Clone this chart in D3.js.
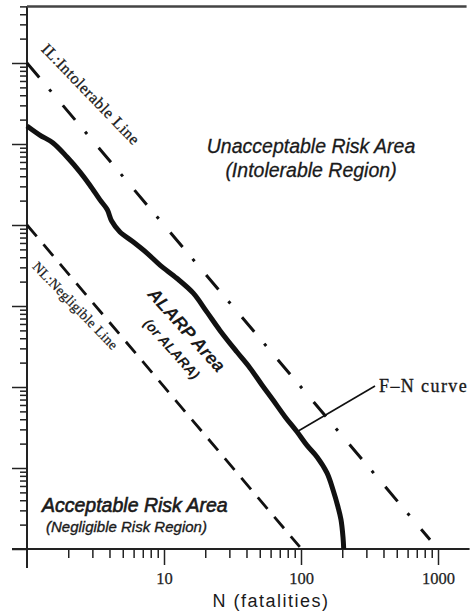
<!DOCTYPE html>
<html>
<head>
<meta charset="utf-8">
<script src="https://cdn.jsdelivr.net/npm/d3@7/dist/d3.min.js"></script>
<style>
  html,body{margin:0;padding:0;background:#fff;}
  svg{display:block;}
</style>
</head>
<body>
<svg id="chart" width="472" height="615"></svg>
<script>
// ---- data ----
// F-N curve: N (fatalities) and F (frequency)
const fnN = [1, 1.24, 1.55, 1.96, 2.44, 2.88, 3.41, 3.85, 4.15, 4.77, 5.94, 7.51, 9.35, 12.4, 16.3, 20.6, 25.6, 34.1, 42.4, 51.9, 62.5, 76.4, 93.5, 110.6, 130.9, 154.8, 171.2, 186.3, 195.9, 202.6, 205];
const fnF = [1.67e-4, 1.29e-4, 1.03e-4, 6.9e-5, 4.5e-5, 3.1e-5, 2.04e-5, 1.55e-5, 1.12e-5, 8.2e-6, 6.2e-6, 4.5e-6, 3.2e-6, 2.2e-6, 1.45e-6, 8.4e-7, 5.0e-7, 2.7e-7, 1.72e-7, 1.06e-7, 6.9e-8, 4.3e-8, 2.8e-8, 1.9e-8, 1.37e-8, 8.7e-9, 5.4e-9, 3.3e-9, 2.3e-9, 1.4e-9, 1.0e-9];
// IL: Intolerable line (end points)
const ilN = [1, 875];
const ilF = [1e-3, 1.3e-9];
// NL: Negligible line (end points)
const nlN = [1, 98];
const nlF = [1e-5, 1.06e-9];
// axis ticks
const xMajorTicks = [10, 100, 1000];
const xTickLabels = ["10", "100", "1000"];
const xMinorTicks = [2,3,4,5,6,7,8,9,20,30,40,50,60,70,80,90,200,300,400,500,600,700,800,900];
const yMajorTicks = [1e-9,1e-8,1e-7,1e-6,1e-5,1e-4,1e-3];
const yMinorTicks = [];
for (let k = -9; k <= -3; k++) for (let m = 2; m <= 9; m++) { const v = m * Math.pow(10, k); if (v <= 5e-3 + 1e-12) yMinorTicks.push(v); }
// leader line of "F-N curve" label (data space)
const leaderN = [93.5, 347];
const leaderF = [2.8e-8, 1.03e-7];

// ---- chart ----
const svg = d3.select("#chart");
const SERIF = "'Liberation Serif','Times New Roman',serif";
const SANS = "'Liberation Sans',Arial,sans-serif";
const ink = "#111";

const x = d3.scaleLog().domain([1, 1700]).range([27, 27 + 137 * Math.log10(1700)]);
const y = d3.scaleLog().domain([1e-9, 5e-3]).range([549, 549 - 81 * Math.log10(5e6)]);

// y ticks (outward, left)
function styleTicks(g){ g.select(".domain").remove(); g.selectAll(".tick line").attr("stroke", "#222").attr("stroke-width", 1.5); }
svg.append("g").attr("transform", `translate(${x(1)},0)`)
  .call(d3.axisLeft(y).tickValues(yMajorTicks).tickSize(15).tickFormat(""))
  .call(styleTicks);
svg.append("g").attr("transform", `translate(${x(1)},0)`)
  .call(d3.axisLeft(y).tickValues(yMinorTicks).tickSize(7).tickFormat(""))
  .call(styleTicks);

// x ticks (downward)
const xAxisMajor = svg.append("g").attr("transform", `translate(0,${y(1e-9)})`)
  .call(d3.axisBottom(x).tickValues(xMajorTicks).tickSize(16).tickPadding(7).tickFormat((d,i) => xTickLabels[i]))
  .call(styleTicks);
xAxisMajor.attr("font-size", null).attr("font-family", null);
xAxisMajor.selectAll(".tick text").attr("font-family", SERIF).attr("font-size", "16.5px")
  .attr("fill", "#222").attr("stroke", "#222").attr("stroke-width", 0.25);
svg.append("g").attr("transform", `translate(0,${y(1e-9)})`)
  .call(d3.axisBottom(x).tickValues(xMinorTicks).tickSize(9).tickFormat(""))
  .call(styleTicks);

// axis frame lines
const frame = svg.append("g").attr("stroke", "#222").attr("stroke-width", 2).attr("fill", "none");
frame.append("line").attr("x1", x(1)).attr("x2", x(1)).attr("y1", y(5e-3)).attr("y2", y(1e-9) + 19);
frame.append("line").attr("x1", x(1) - 15).attr("x2", x(1700)).attr("y1", y(1e-9)).attr("y2", y(1e-9));
frame.append("line").attr("x1", x(1)).attr("x2", x(1700) - 3).attr("y1", y(5e-3)).attr("y2", y(5e-3)).attr("stroke", "#444").attr("stroke-width", 2.5);

const line = d3.line().x(d => x(d[0])).y(d => y(d[1]));

// IL dash-dot line
svg.append("path").datum(ilN.map((n,i) => [n, ilF[i]]))
  .attr("d", line).attr("fill", "none").attr("stroke", ink).attr("stroke-width", 3)
  .attr("stroke-dasharray", "19,15.5,3,18");

// NL dashed line
svg.append("path").datum(nlN.map((n,i) => [n, nlF[i]]))
  .attr("d", line).attr("fill", "none").attr("stroke", ink).attr("stroke-width", 2.8)
  .attr("stroke-dasharray", "15,10.5");

// F-N curve
const fnLine = d3.line().x(d => x(d[0])).y(d => y(d[1])).curve(d3.curveCatmullRom.alpha(0.5));
svg.append("path").datum(fnN.map((n,i) => [n, fnF[i]]))
  .attr("d", fnLine).attr("fill", "none").attr("stroke", ink).attr("stroke-width", 5)
  .attr("stroke-linejoin", "round").attr("stroke-linecap", "butt");

// leader line
svg.append("path").datum(leaderN.map((n,i) => [n, leaderF[i]]))
  .attr("d", line).attr("fill", "none").attr("stroke", ink).attr("stroke-width", 1.6);

// ---- texts ----
function txt(t, tx, ty, rot, font, size, opts = {}) {
  const e = svg.append("text")
    .attr("transform", `translate(${tx},${ty}) rotate(${rot})`)
    .attr("font-family", font).attr("font-size", size).attr("fill", opts.fill || "#1a1a1a")
    .attr("text-anchor", opts.anchor || "middle")
    .text(t);
  if (opts.italic) e.attr("font-style", "italic");
  if (opts.bold) e.attr("font-weight", "bold");
  if (opts.ls) e.attr("letter-spacing", opts.ls);
  if (opts.sw) e.attr("stroke", "#1a1a1a").attr("stroke-width", opts.sw);
  return e;
}
txt("IL:Intolerable Line", 87, 98, 46, SERIF, 16, {ls: 0.6, sw: 0.3});
txt("NL:Negligible Line", 72, 309, 46, SERIF, 14, {ls: 0.3, sw: 0.25});
txt("ALARP Area", 182, 334, 48, SANS, 18, {italic: true, bold: true});
txt("(or ALARA)", 168, 352, 48, SANS, 14, {italic: true, bold: true});
txt("Unacceptable Risk Area", 311, 153, 0, SANS, 19.5, {italic: true, sw: 0.3});
txt("(Intolerable Region)", 311, 177, 0, SANS, 19.5, {italic: true, sw: 0.3});
txt("Acceptable Risk Area", 42, 512, 0, SANS, 19.5, {italic: true, anchor: "start", sw: 0.6});
txt("(Negligible Risk Region)", 46, 532, 0, SANS, 15, {italic: true, anchor: "start", sw: 0.35});
txt("F–N curve", 379, 392, 0, SERIF, 18, {anchor: "start", ls: 1.4, sw: 0.3});
txt("N (fatalities)", 271, 607, 0, SANS, 18, {ls: 1.5});
</script>
</body>
</html>
